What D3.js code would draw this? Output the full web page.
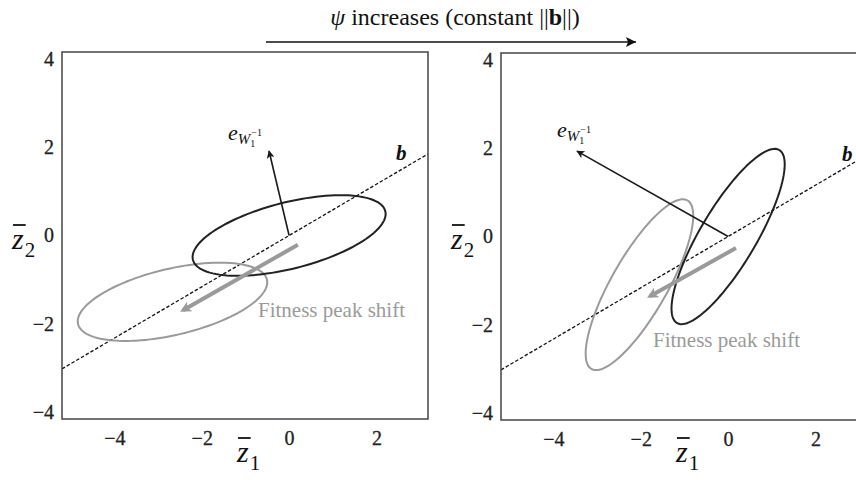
<!DOCTYPE html>
<html><head><meta charset="utf-8">
<script src="https://cdn.jsdelivr.net/npm/d3@7"></script>
<style>
html,body{margin:0;padding:0;background:#fff;}
svg{display:block;}
</style></head>
<body>
<svg id="chart" width="856" height="485"></svg>
<script>
// ---- data ----
const xTicks = [-4, -2, 0, 2];
const yTicks = [-4, -2, 0, 2, 4];
const xDomain = [-5.2, 3.18];
const yDomain = [-4.15, 4.15];
const bSlope = 0.58;                       // direction of selection gradient b
const panelNames = ["low ψ", "high ψ"];
// ellipses: [cx, cy, semi-major, semi-minor, angle(deg)]
const blackEllipses = [[0, 0, 2.27, 0.75, 14], [0, 0, 2.28, 0.64, 59]];
const grayEllipses  = [[-2.67, -1.5, 2.22, 0.75, 13], [-2.03, -1.09, 2.2, 0.64, 60]];
// eigenvector arrows [x0,y0,x1,y1]
const eigenArrows = [[0, 0, -0.46, 1.91], [0, 0, -3.46, 1.93]];
// fitness peak shift arrows [x0,y0,x1,y1]
const shiftArrows = [[0.2, -0.21, -2.43, -1.69], [0.18, -0.26, -1.79, -1.35]];
const titleText = "increases (constant ||";

const SERIF = '"Liberation Serif", "DejaVu Serif", serif';

// ---- layout ----
const svg = d3.select("#chart").style("font-family", SERIF);
const frames = [
  {x0: 62, x1: 428, y0: 52, y1: 419},
  {x0: 501, x1: 867, y0: 53, y1: 420}
];
const labelPos = [
  {e: [228, 140], b: [396, 160], fit: [258, 317]},
  {e: [557, 137], b: [842, 161], fit: [653, 347]}
];

const defs = svg.append("defs");
defs.append("marker").attr("id", "ahBlack").attr("viewBox", "0 0 10 10")
  .attr("refX", 9).attr("refY", 5).attr("markerWidth", 10).attr("markerHeight", 8)
  .attr("markerUnits", "userSpaceOnUse").attr("orient", "auto")
  .append("path").attr("d", "M0,0L10,5L0,10L2.5,5Z").attr("fill", "#1a1a1a");
defs.append("marker").attr("id", "ahGray").attr("viewBox", "0 0 10 10")
  .attr("refX", 7).attr("refY", 5).attr("markerWidth", 14).attr("markerHeight", 11)
  .attr("markerUnits", "userSpaceOnUse").attr("orient", "auto")
  .append("path").attr("d", "M0,0L10,5L0,10L2.5,5Z").attr("fill", "#9a9a9a");
defs.append("marker").attr("id", "ahTitle").attr("viewBox", "0 0 10 10")
  .attr("refX", 10).attr("refY", 5).attr("markerWidth", 18).attr("markerHeight", 10)
  .attr("markerUnits", "userSpaceOnUse").attr("orient", "auto")
  .append("path").attr("d", "M0,0L10,5L0,10L2,5Z").attr("fill", "#111");

// ---- title ----
const title = svg.append("text").attr("x", 455).attr("y", 25).attr("text-anchor", "middle")
  .attr("font-size", 24).attr("fill", "#111");
title.append("tspan").attr("font-style", "italic").text("ψ ");
title.append("tspan").text(titleText);
title.append("tspan").attr("font-weight", "bold").text("b");
title.append("tspan").text("||)");
svg.append("line").attr("x1", 266).attr("x2", 636).attr("y1", 42).attr("y2", 42)
  .attr("stroke", "#111").attr("stroke-width", 1.6).attr("marker-end", "url(#ahTitle)");

function ellipsePts(e) {
  const [cx, cy, a, b, ang] = e;
  const th = ang * Math.PI / 180;
  return d3.range(0, 361, 3).map(t => {
    const r = t * Math.PI / 180;
    const u = a * Math.cos(r), v = b * Math.sin(r);
    return [cx + u * Math.cos(th) - v * Math.sin(th), cy + u * Math.sin(th) + v * Math.cos(th)];
  });
}

panelNames.forEach((name, i) => {
  const f = frames[i];
  const x = d3.scaleLinear().domain(xDomain).range([f.x0, f.x1]);
  const y = d3.scaleLinear().domain(yDomain).range([f.y1, f.y0]);
  const g = svg.append("g");
  const clipId = "clip" + i;
  defs.append("clipPath").attr("id", clipId).append("rect")
    .attr("x", f.x0).attr("y", f.y0).attr("width", f.x1 - f.x0).attr("height", f.y1 - f.y0);
  const line = d3.line().x(d => x(d[0])).y(d => y(d[1]));

  // axes
  const ax = g.append("g").attr("transform", `translate(0,${f.y1})`)
    .call(d3.axisBottom(x).tickValues(xTicks).tickSize(0).tickPadding(12));
  const ay = g.append("g").attr("transform", `translate(${f.x0},0)`)
    .call(d3.axisLeft(y).tickValues(yTicks).tickSize(0).tickPadding(8));
  [ax, ay].forEach(a => {
    a.attr("font-family", SERIF).attr("font-size", 20);
    a.select(".domain").remove();
    a.selectAll("text").attr("fill", "#222").attr("stroke", "#222").attr("stroke-width", 0.3);
  });

  const inner = g.append("g").attr("clip-path", `url(#${clipId})`);
  // b line
  inner.append("path").attr("d", line([[xDomain[0], bSlope * xDomain[0]], [xDomain[1], bSlope * xDomain[1]]]))
    .attr("fill", "none").attr("stroke", "#111").attr("stroke-width", 1.3).attr("stroke-dasharray", "3.5,2");
  // ellipses
  inner.append("path").attr("d", line(ellipsePts(grayEllipses[i])))
    .attr("fill", "none").attr("stroke", "#9a9a9a").attr("stroke-width", 2);
  inner.append("path").attr("d", line(ellipsePts(blackEllipses[i])))
    .attr("fill", "none").attr("stroke", "#222").attr("stroke-width", 2);
  // eigen arrow
  const ea = eigenArrows[i];
  g.append("path").attr("d", line([[ea[0], ea[1]], [ea[2], ea[3]]]))
    .attr("stroke", "#1a1a1a").attr("stroke-width", 1.6).attr("fill", "none")
    .attr("marker-end", "url(#ahBlack)");
  // shift arrow
  const sa = shiftArrows[i];
  g.append("path").attr("d", line([[sa[0], sa[1]], [sa[2], sa[3]]]))
    .attr("stroke", "#9a9a9a").attr("stroke-width", 4).attr("fill", "none")
    .attr("marker-end", "url(#ahGray)");

  // frame
  g.append("rect").attr("x", f.x0).attr("y", f.y0).attr("width", f.x1 - f.x0).attr("height", f.y1 - f.y0)
    .attr("fill", "none").attr("stroke", "#444").attr("stroke-width", 1.5);

  const lp = labelPos[i];
  // e_{W1^-1} label
  const et = g.append("text").attr("x", lp.e[0]).attr("y", lp.e[1]).attr("fill", "#111").attr("font-style", "italic");
  et.append("tspan").attr("font-size", 22).text("e");
  et.append("tspan").attr("font-size", 15).attr("dy", 4).text("W");
  et.append("tspan").attr("font-size", 10).attr("font-style", "normal").attr("dy", 3).text("1");
  et.append("tspan").attr("font-size", 10).attr("font-style", "normal").attr("dx", -4).attr("dy", -11).text("−1");
  // b label
  g.append("text").attr("x", lp.b[0]).attr("y", lp.b[1]).attr("font-size", 21)
    .attr("font-weight", "bold").attr("font-style", "italic").attr("fill", "#111").text("b");
  // fitness label
  g.append("text").attr("x", lp.fit[0]).attr("y", lp.fit[1]).attr("font-size", 21)
    .attr("fill", "#9a9a9a").text("Fitness peak shift");

  // axis titles z̄1, z̄2
  function zLabel(zx, zy, sub) {
    const t = g.append("text").attr("x", zx).attr("y", zy).attr("fill", "#111");
    const zs = t.append("tspan").attr("font-size", 30).attr("font-style", "italic").text("z");
    t.append("tspan").attr("font-size", 21).attr("dy", 8).attr("dx", 1).text(sub);
    const w = zs.node().getComputedTextLength();
    g.append("line").attr("x1", zx + 1).attr("x2", zx + w + 2).attr("y1", zy - 24).attr("y2", zy - 24)
      .attr("stroke", "#111").attr("stroke-width", 1.8);
  }
  zLabel(f.x0 - 50, 249, "2");
  zLabel((f.x0 + f.x1) / 2 - 8, 462, "1");
});
</script>
</body></html>
